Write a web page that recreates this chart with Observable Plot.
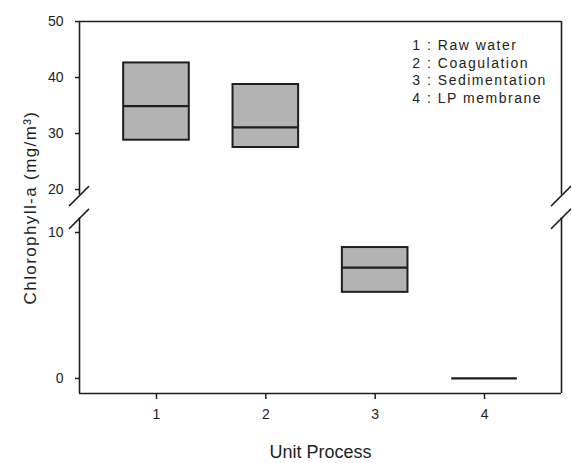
<!DOCTYPE html>
<html>
<head>
<meta charset="utf-8">
<script src="https://cdn.jsdelivr.net/npm/d3@7"></script>
<script src="https://cdn.jsdelivr.net/npm/@observablehq/plot@0.6"></script>
<style>
  html, body { margin: 0; padding: 0; background: #fff; }
  #chart svg { display: block; font-family: "Liberation Sans", Arial, sans-serif; }
</style>
</head>
<body>
<div id="chart"></div>
<script>
// Chlorophyll-a through each unit process (box = quartiles, line = median)
const processes = [1, 2, 3, 4];
const q1 = [28.8, 27.5, 5.9, 0];
const medians = [34.9, 31.1, 7.6, 0];
const q3 = [42.6, 38.75, 8.97, 0];

const processNames = ["Raw water", "Coagulation", "Sedimentation", "LP membrane"];
const yTicks = [0, 10, 20, 30, 40, 50];
const xTicks = [1, 2, 3, 4];

// broken y axis: lower segment ends at 11, upper resumes at 19
const yBreak = [11, 19];
const yMin = -1.03, yMax = 50;
const xDomain = [0.296, 4.704];

const W = 572, H = 463;
const mTop = 21, mBottom = 70, mLeft = 79, mRight = 11;
const boxHalf = 0.3;

const boxes = processes.map((p, i) => ({p, q1: q1[i], med: medians[i], q3: q3[i]}));
const legendText = processes.map((p, i) => `${p} : ${processNames[i]}`).join("\n");

const ink = "#1e1e1e";

// frame segments (the left and right sides are interrupted at the break)
const vSegments = [
  {x: xDomain[0], y1: yMin, y2: yBreak[0]},
  {x: xDomain[0], y1: yBreak[1], y2: yMax},
  {x: xDomain[1], y1: yMin, y2: yBreak[0]},
  {x: xDomain[1], y1: yBreak[1], y2: yMax}
];
const hSegments = [{y: yMin}, {y: yMax}];

// pairs of slashes across both sides of the frame at the axis break
function breakMarks(index, scales) {
  const g = d3.create("svg:g").attr("stroke", ink).attr("stroke-width", 1.5);
  for (const xv of xDomain) {
    for (const yv of yBreak) {
      const cx = scales.x(xv), cy = scales.y(yv) + 1.5;
      g.append("line")
        .attr("x1", cx - 10).attr("y1", cy + 10)
        .attr("x2", cx + 10).attr("y2", cy - 10);
    }
  }
  return g.node();
}

const chart = Plot.plot({
  width: W,
  height: H,
  marginTop: mTop,
  marginBottom: mBottom,
  marginLeft: mLeft,
  marginRight: mRight,
  style: {fontFamily: "Liberation Sans, Arial, sans-serif", color: ink, background: "#fff"},
  x: {type: "linear", domain: xDomain},
  y: {
    type: "linear",
    domain: [yMin, yBreak[0], yBreak[1], yMax],
    range: [H - mBottom, 217.4, 194.6, mTop]
  },
  marks: [
    Plot.rect(boxes, {
      x1: d => d.p - boxHalf, x2: d => d.p + boxHalf,
      y1: "q1", y2: "q3",
      fill: "#b3b3b3", stroke: ink, strokeWidth: 2
    }),
    Plot.ruleY(boxes, {
      x1: d => d.p - boxHalf, x2: d => d.p + boxHalf,
      y: "med", stroke: ink, strokeWidth: 2.2
    }),
    Plot.ruleX(vSegments, {x: "x", y1: "y1", y2: "y2", stroke: ink, strokeWidth: 1.6}),
    Plot.ruleY(hSegments, {y: "y", stroke: ink, strokeWidth: 1.6}),
    breakMarks,
    Plot.axisY({
      ticks: yTicks, tickSize: 4, tickPadding: 12, tickFormat: "d",
      fontSize: 14, strokeWidth: 1.5, label: null
    }),
    Plot.axisX({
      ticks: xTicks, tickSize: 6, tickPadding: 10, tickFormat: "d",
      fontSize: 14, strokeWidth: 1.5, label: null
    }),
    Plot.text([legendText], {
      x: 3.34, y: 41.2, text: d => d,
      textAnchor: "start", lineAnchor: "middle", lineHeight: 1.25,
      fontSize: 14, fill: ink
    }),
    Plot.text(["Unit Process"], {
      frameAnchor: "bottom", dy: 59, text: d => d,
      textAnchor: "middle", lineAnchor: "middle",
      fontSize: 18, fill: ink
    }),
    Plot.text(["Chlorophyll-a (mg/m³)"], {
      frameAnchor: "left", dx: -49, rotate: -90, text: d => d,
      textAnchor: "middle", lineAnchor: "middle",
      fontSize: 17, fill: ink
    })
  ]
});

// widen the tracking of the legend lines and the y-axis title
const textMarks = d3.select(chart).selectAll('g[aria-label="text"]').nodes();
d3.select(textMarks[0]).attr("letter-spacing", "1.5px");
d3.select(textMarks[2]).attr("letter-spacing", "1.4px");

document.getElementById("chart").append(chart);
</script>
</body>
</html>
